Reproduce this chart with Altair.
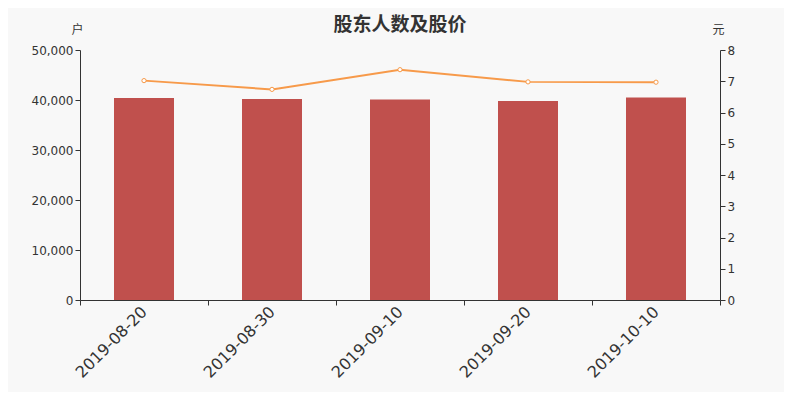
import altair as alt
import pandas as pd

dates = ["2019-08-20", "2019-08-30", "2019-09-10", "2019-09-20", "2019-10-10"]
holders = [40400, 40200, 40100, 39800, 40500]
prices = [7.02, 6.74, 7.37, 6.98, 6.97]

df = pd.DataFrame({"date": dates, "holders": holders, "price": prices})

LABEL_FONT = "DejaVu Sans"
CJK = "Noto Sans CJK SC"

x = alt.X(
    "date:N",
    sort=None,
    title=None,
    scale=alt.Scale(paddingInner=0, paddingOuter=0),
    axis=alt.Axis(
        labelAngle=-45,
        labelFontSize=16,
        labelFont=LABEL_FONT,
        labelColor="#333333",
        labelAlign="right",
        labelBaseline="middle",
        labelPadding=4,
        tickBand="extent",
        tickSize=5,
        domainColor="#333333",
        tickColor="#333333",
        grid=False,
    ),
)

bars = alt.Chart(df).mark_bar(color="#c0504d", size=60).encode(
    x=x,
    y=alt.Y(
        "holders:Q",
        scale=alt.Scale(domain=[0, 50000]),
        axis=alt.Axis(
            title="户",
            titleAngle=0,
            titleFont=CJK,
            titleFontSize=12,
            titleFontWeight="normal",
            titleColor="#333333",
            titleX=-3,
            titleY=-14,
            titleAlign="center",
            values=[0, 10000, 20000, 30000, 40000, 50000],
            format=",d",
            labelFont=LABEL_FONT,
            labelFontSize=12,
            labelColor="#333333",
            tickSize=5,
            domainColor="#333333",
            tickColor="#333333",
            grid=False,
        ),
    ),
)

line = alt.Chart(df).mark_line(
    color="#f79a4a",
    strokeWidth=2,
    point=alt.OverlayMarkDef(filled=True, fill="white", stroke="#f79a4a", strokeWidth=1, size=18),
).encode(
    x=alt.X("date:N", sort=None),
    y=alt.Y(
        "price:Q",
        scale=alt.Scale(domain=[0, 8]),
        axis=alt.Axis(
            orient="right",
            title="元",
            titleAngle=0,
            titleFont=CJK,
            titleFontSize=12,
            titleFontWeight="normal",
            titleColor="#333333",
            titleX=-2,
            titleY=-14,
            titleAlign="center",
            values=[0, 1, 2, 3, 4, 5, 6, 7, 8],
            labelFont=LABEL_FONT,
            labelFontSize=12,
            labelColor="#333333",
            tickSize=5,
            domainColor="#333333",
            tickColor="#333333",
            grid=False,
        ),
    ),
)

chart = (
    alt.layer(bars, line)
    .resolve_scale(y="independent")
    .properties(
        width=640,
        height=250,
        background="#f8f8f8",
        padding={"left": 72, "top": 42, "right": 64, "bottom": 92},
        autosize=alt.AutoSizeParams(type="none"),
        title=alt.TitleParams(
            "股东人数及股价",
            font=CJK,
            fontSize=19,
            fontWeight="bold",
            color="#333333",
            anchor="middle",
            offset=-12,
        ),
    )
    .configure_view(stroke=None)
)

chart.save("out.html", embed_options={"renderer": "svg", "actions": False})
